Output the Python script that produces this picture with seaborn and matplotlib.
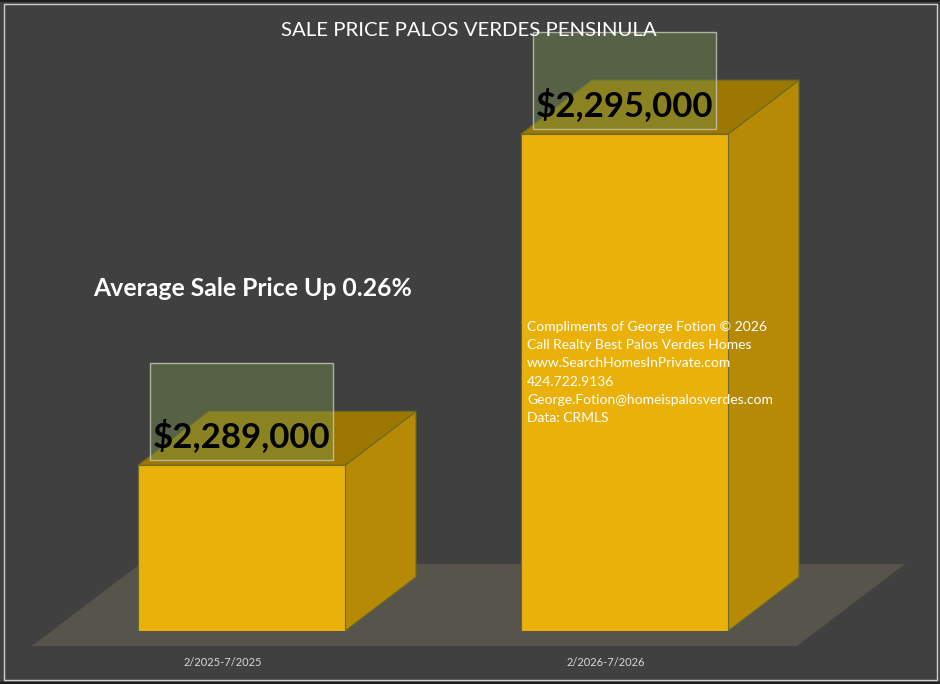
import matplotlib
matplotlib.use("Agg")
import matplotlib.pyplot as plt
import matplotlib.transforms as mtransforms
from matplotlib.patches import Polygon, Rectangle
import seaborn as sns
import pandas as pd

# ---- data ----
periods = ["2/2025-7/2025", "2/2026-7/2026"]
prices = [2289000, 2295000]
price_labels = ["$2,289,000", "$2,295,000"]
title_text = "SALE PRICE PALOS VERDES PENSINULA"
headline = "Average Sale Price Up 0.26%"
credits = [
    "Compliments of George Fotion \u00a9 2026",
    "Call Realty Best Palos Verdes Homes",
    "www.SearchHomesInPrivate.com",
    "424.722.9136",
    "George.Fotion@homeispalosverdes.com",
    "Data: CRMLS",
]

# ---- style ----
W, H = 940, 684
BG = "#404040"
FRONT = "#E9B10A"
SIDE = "#B68A04"
TOP = "#9C7803"
EDGE = "#6B6A25"
FLOOR = "#57544B"
axis_min, axis_max = 2286000, 2297430

sns.set_theme(style="white")
plt.rcParams["font.family"] = ["Lato", "DejaVu Sans"]

fig = plt.figure(figsize=(W / 100, H / 100), dpi=100, facecolor=BG)
ax = fig.add_axes([0, 53 / H, 1, 631 / H])
ax.set_facecolor("none")

df = pd.DataFrame({"period": periods, "price": prices})
sns.barplot(data=df, x="period", y="price", ax=ax, color=FRONT, saturation=1,
            width=0.5405, errorbar=None, edgecolor=EDGE, linewidth=0.8, zorder=3)
ax.set_xlim(-0.6305, 1.8238)
ax.set_ylim(axis_min, axis_max)
ax.set_axis_off()

ident = mtransforms.IdentityTransform()
DX, DY = 71, 54  # 3D depth in pixels

bars = sorted(ax.patches, key=lambda p: p.get_x())
geo = []
for p in bars:
    xl, yb = ax.transData.transform((p.get_x(), axis_min))
    xr, yt = ax.transData.transform((p.get_x() + p.get_width(), p.get_height()))
    geo.append((xl, xr, yb, yt))

# floor
xl0, _, yb0, _ = geo[0]
_, xr1, _, _ = geo[-1]
fy = yb0 - 15
floor = Polygon([(xl0 - 106, fy), (xr1 + 69, fy), (xr1 + 69 + 108, fy + 82), (xl0 - 106 + 108, fy + 82)],
                closed=True, facecolor=FLOOR, edgecolor="none", transform=ident, clip_on=False, zorder=0.5)
ax.add_patch(floor)

for (xl, xr, yb, yt), lab in zip(geo, price_labels):
    side = Polygon([(xr, yb), (xr + DX, yb + DY), (xr + DX, yt + DY), (xr, yt)], closed=True,
                   facecolor=SIDE, edgecolor=EDGE, linewidth=0.8, transform=ident, clip_on=False, zorder=2)
    top = Polygon([(xl, yt), (xr, yt), (xr + DX, yt + DY), (xl + DX, yt + DY)], closed=True,
                  facecolor=TOP, edgecolor=EDGE, linewidth=0.8, transform=ident, clip_on=False, zorder=2)
    ax.add_patch(side)
    ax.add_patch(top)
    xc = (xl + xr) / 2
    box = Rectangle((xc - 91.5, yt + 5), 183, 97, facecolor="#75904D", alpha=0.42,
                    edgecolor="none", transform=ident, clip_on=False, zorder=4)
    boxe = Rectangle((xc - 91.5, yt + 5), 183, 97, facecolor="none", edgecolor="#C8C8B8",
                     linewidth=1, alpha=0.8, transform=ident, clip_on=False, zorder=4.1)
    ax.add_patch(box)
    ax.add_patch(boxe)
    ax.text(xc, yt + 29, lab, transform=ident, ha="center", va="center", fontsize=25,
            fontweight="bold", color="black", zorder=5)

# x labels
for (xl, xr, yb, yt), per in zip(geo, periods):
    ax.text((xl + xr) / 2 - 19, yb - 31, per, transform=ident, ha="center", va="center",
            fontsize=8, color="#D9D9D9", zorder=5)

# texts
fig.text(469 / W, 1 - 31 / H, title_text, ha="center", va="center", fontsize=14.7, color="white")
fig.text(93 / W, 1 - 289 / H, headline, ha="left", va="center", fontsize=17.8, fontweight="bold", color="white")
for i, line in enumerate(credits):
    fig.text(527 / W, 1 - (327 + i * 18.2) / H, line, ha="left", va="center", fontsize=10, color="white", zorder=6)

# border
fig.add_artist(Rectangle((3.5, H - 679.5), 933, 676, facecolor="none", edgecolor="#D0D0D0",
                         linewidth=1, transform=ident))
fig.add_artist(Rectangle((0, H - 2), W, 2, facecolor="#1E1E1E", edgecolor="none", transform=ident))
fig.add_artist(Rectangle((0, 0), W, 2, facecolor="#1E1E1E", edgecolor="none", transform=ident))

fig.savefig("out.png", dpi=100, facecolor=BG)
